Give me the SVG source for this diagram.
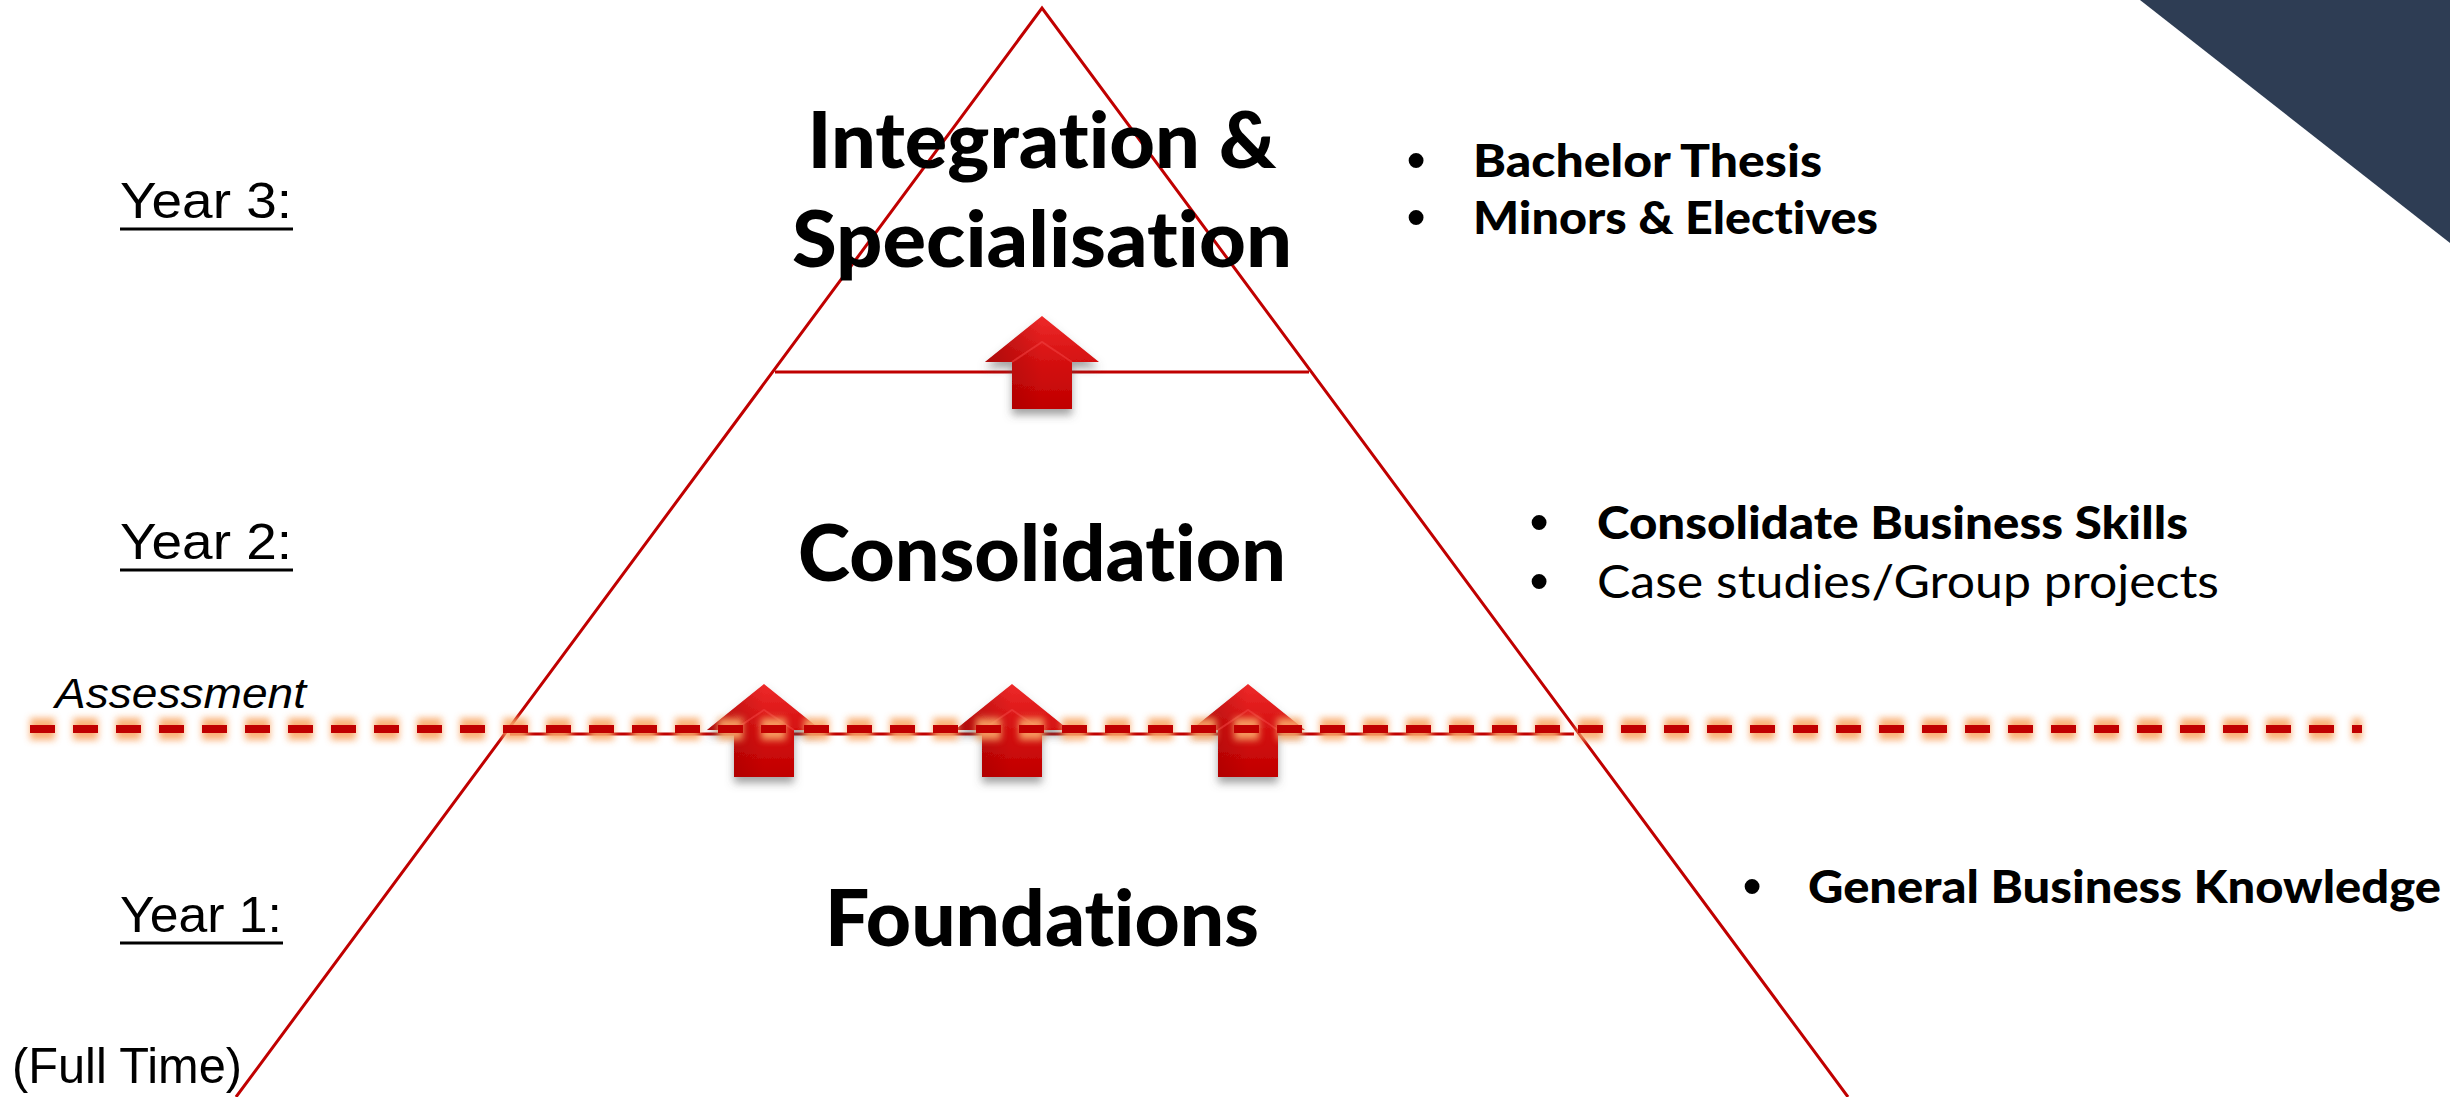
<svg xmlns="http://www.w3.org/2000/svg" width="2450" height="1097" viewBox="0 0 2450 1097">
  <style>
    text { font-variant-ligatures: none; }
    .edge { fill: none; stroke: #C00000; stroke-width: 3; }
    .head { font-family: Lato, "Noto Sans", sans-serif; font-weight: 900; font-size: 78px; fill: #000; text-anchor: middle; }
    .year { font-family: "Liberation Sans", Arial, sans-serif; font-size: 50px; fill: #000; }
    .uline { stroke: #000; stroke-width: 3; }
    .bul { font-family: Lato, "Noto Sans", sans-serif; font-size: 46px; fill: #000; }
    .b { font-weight: 900; }
    .dot { font-family: "Liberation Sans", Arial, sans-serif; font-size: 52px; font-weight: 700; fill: #000; }
  </style>
  <defs>
    <linearGradient id="arrowFill" x1="0" y1="0" x2="0" y2="1">
      <stop offset="0" stop-color="#EE2A2A"/>
      <stop offset="0.5" stop-color="#D41010"/>
      <stop offset="1" stop-color="#C00000"/>
    </linearGradient>
    <linearGradient id="arrowShade" x1="0" y1="0" x2="1" y2="0">
      <stop offset="0" stop-color="#8A0000" stop-opacity="0.55"/>
      <stop offset="1" stop-color="#8A0000" stop-opacity="0"/>
    </linearGradient>
    <filter id="shadow" x="-40%" y="-30%" width="180%" height="170%">
      <feDropShadow dx="0" dy="6" stdDeviation="4" flood-color="#555" flood-opacity="0.55"/>
    </filter>
    <filter id="glow" filterUnits="userSpaceOnUse" x="0" y="690" width="2450" height="80">
      <feGaussianBlur stdDeviation="3.5"/>
    </filter>
    <g id="upArrow">
      <path d="M0 0 L57 46 L30 46 L30 93 L-30 93 L-30 46 L-57 46 Z" fill="url(#arrowFill)"/>
      <path d="M0 0 L-57 46 L-30 46 L-30 93 L0 93 L0 40 Z" fill="url(#arrowShade)"/>
      <path d="M-30 46 L0 26 L30 46" fill="none" stroke="#F04040" stroke-width="2" opacity="0.6"/>
    </g>
  </defs>

  <rect width="2450" height="1097" fill="#fff"/>

  <!-- navy corner accent -->
  <polygon points="2140,0 2450,0 2450,243" fill="#2E3D54"/>

  <!-- pyramid outline and tier lines -->
  <g id="pyramid">
    <polyline class="edge" points="236,1097 1042,8 1848,1097"/>
    <line class="edge" x1="775" y1="372" x2="1309" y2="372"/>
    <line class="edge" x1="510" y1="734" x2="1574" y2="734"/>
  </g>

  <!-- tier titles -->
  <g id="tier3">
    <text class="head" x="1042" y="168" textLength="469" lengthAdjust="spacingAndGlyphs">Integration &amp;</text>
    <text class="head" x="1042" y="267" textLength="500" lengthAdjust="spacingAndGlyphs">Specialisation</text>
  </g>
  <g id="tier2">
    <text class="head" x="1042" y="581" textLength="488" lengthAdjust="spacingAndGlyphs">Consolidation</text>
  </g>
  <g id="tier1">
    <text class="head" x="1042" y="946" textLength="434" lengthAdjust="spacingAndGlyphs">Foundations</text>
  </g>

  <!-- year labels -->
  <g id="year3">
    <text class="year" x="120" y="218" textLength="172" lengthAdjust="spacingAndGlyphs">Year 3:</text>
    <line class="uline" x1="120" y1="229" x2="293" y2="229"/>
  </g>
  <g id="year2">
    <text class="year" x="120" y="559" textLength="172" lengthAdjust="spacingAndGlyphs">Year 2:</text>
    <line class="uline" x1="120" y1="570" x2="293" y2="570"/>
  </g>
  <g id="year1">
    <text class="year" x="120" y="932" textLength="162" lengthAdjust="spacingAndGlyphs">Year 1:</text>
    <line class="uline" x1="120" y1="943" x2="283" y2="943"/>
  </g>
  <g id="fulltime">
    <text class="year" x="12" y="1083" font-size="46" textLength="230" lengthAdjust="spacingAndGlyphs">(Full Time)</text>
  </g>

  <!-- bullet lists -->
  <g id="list3">
    <text class="dot" x="1407" y="178">•</text>
    <text class="bul b" x="1473" y="177" textLength="349" lengthAdjust="spacingAndGlyphs">Bachelor Thesis</text>
    <text class="dot" x="1407" y="235">•</text>
    <text class="bul b" x="1473" y="234" textLength="405" lengthAdjust="spacingAndGlyphs">Minors &amp; Electives</text>
  </g>
  <g id="list2">
    <text class="dot" x="1530" y="540">•</text>
    <text class="bul b" x="1597" y="539" textLength="591" lengthAdjust="spacingAndGlyphs">Consolidate Business Skills</text>
    <text class="dot" x="1530" y="599">•</text>
    <text class="bul" x="1597" y="598" textLength="622" lengthAdjust="spacingAndGlyphs">Case studies/Group projects</text>
  </g>
  <g id="list1">
    <text class="dot" x="1743" y="904">•</text>
    <text class="bul b" x="1808" y="903" textLength="633" lengthAdjust="spacingAndGlyphs">General Business Knowledge</text>
  </g>

  <!-- progression arrows -->
  <g id="arrows" filter="url(#shadow)">
    <use href="#upArrow" transform="translate(1042,316)"/>
    <use href="#upArrow" transform="translate(764,684)"/>
    <use href="#upArrow" transform="translate(1012,684)"/>
    <use href="#upArrow" transform="translate(1248,684)"/>
  </g>

  <!-- assessment threshold -->
  <g id="assessment">
    <text x="55" y="708" font-family="'Liberation Sans', Arial, sans-serif" font-style="italic" font-size="43" fill="#000" textLength="251" lengthAdjust="spacingAndGlyphs">Assessment</text>
    <line x1="30" y1="729" x2="2362" y2="729" stroke="#F9A868" stroke-width="22" stroke-dasharray="25 18" filter="url(#glow)" opacity="0.9"/>
    <line x1="30" y1="729" x2="2362" y2="729" stroke="#C00000" stroke-width="8" stroke-dasharray="25 18"/>
  </g>
</svg>
